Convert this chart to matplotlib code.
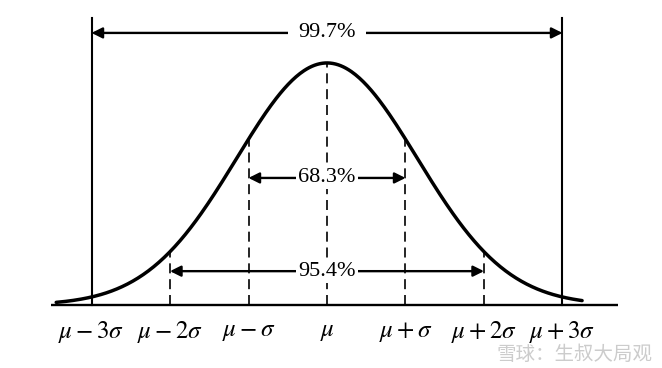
import numpy as np
import matplotlib
matplotlib.use("Agg")
import matplotlib.pyplot as plt

# ----------------------------- Data -----------------------------
sigma_ticks = [-3, -2, -1, 0, 1, 2, 3]
tick_labels = [r"$\mu-3\sigma$", r"$\mu-2\sigma$", r"$\mu-\sigma$", r"$\mu$",
               r"$\mu+\sigma$", r"$\mu+2\sigma$", r"$\mu+3\sigma$"]
interval_k = [3, 1, 2]                     # ±kσ
interval_labels = ["99.7%", "68.3%", "95.4%"]
watermark = "雪球：生叔大局观"

# the drawn bell is a little wider than the true one in the source figure
curve_sigma = 1.15


def bell(x):
    return np.exp(-0.5 * (np.asarray(x) / curve_sigma) ** 2)


# ----------------------------- Plot -----------------------------
plt.rcParams["font.family"] = ["Liberation Serif", "DejaVu Serif"]
plt.rcParams["mathtext.fontset"] = "stix"

fig = plt.figure(figsize=(6.62, 3.68), dpi=100)
ax = fig.add_axes([0, 0, 1, 1])
ax.set_xlim(-4.166, 4.268)
ax.set_ylim(-0.260, 1.260)
ax.axis("off")

# baseline
ax.plot([-3.52, 3.71], [0, 0], color="black", lw=1.7, solid_capstyle="butt")

# bell curve
xs = np.linspace(-3.45, 3.25, 400)
ax.plot(xs, bell(xs), color="black", lw=2.5, solid_capstyle="round")

# solid bounds at ±3σ
for k in (-3, 3):
    ax.plot([k, k], [0, 1.186], color="black", lw=1.5)

# dashed guides at μ, ±σ, ±2σ
for k in (-2, -1, 0, 1, 2):
    ax.plot([k, k], [0, bell(k)], color="black", lw=1.2,
            linestyle=(0, (6, 3.5)))

# interval arrows with labels
arrow_y = {3: 1.124, 1: 0.525, 2: 0.14}
label_pad = {3: 7, 1: 1.5, 2: 2}
for k, lbl in zip(interval_k, interval_labels):
    y = arrow_y[k]
    for side in (-1, 1):
        ax.annotate("", xy=(side * k, y), xytext=(0, y),
                    arrowprops=dict(arrowstyle="-|>", color="black", lw=1.7,
                                    mutation_scale=16, shrinkA=0, shrinkB=0))
    ax.text(0, y, lbl, ha="center", va="center", fontsize=16,
            bbox=dict(facecolor="white", edgecolor="none", pad=label_pad[k]))

# tick labels
for k, lbl in zip(sigma_ticks, tick_labels):
    ax.text(k, -0.11, lbl, ha="center", va="center", fontsize=18)

# watermark
ax.text(4.15, -0.205, watermark, ha="right", va="center", fontsize=14,
        color="#cccccc", family=["Noto Sans CJK SC", "DejaVu Sans"])

fig.savefig("out.png", dpi=100)
